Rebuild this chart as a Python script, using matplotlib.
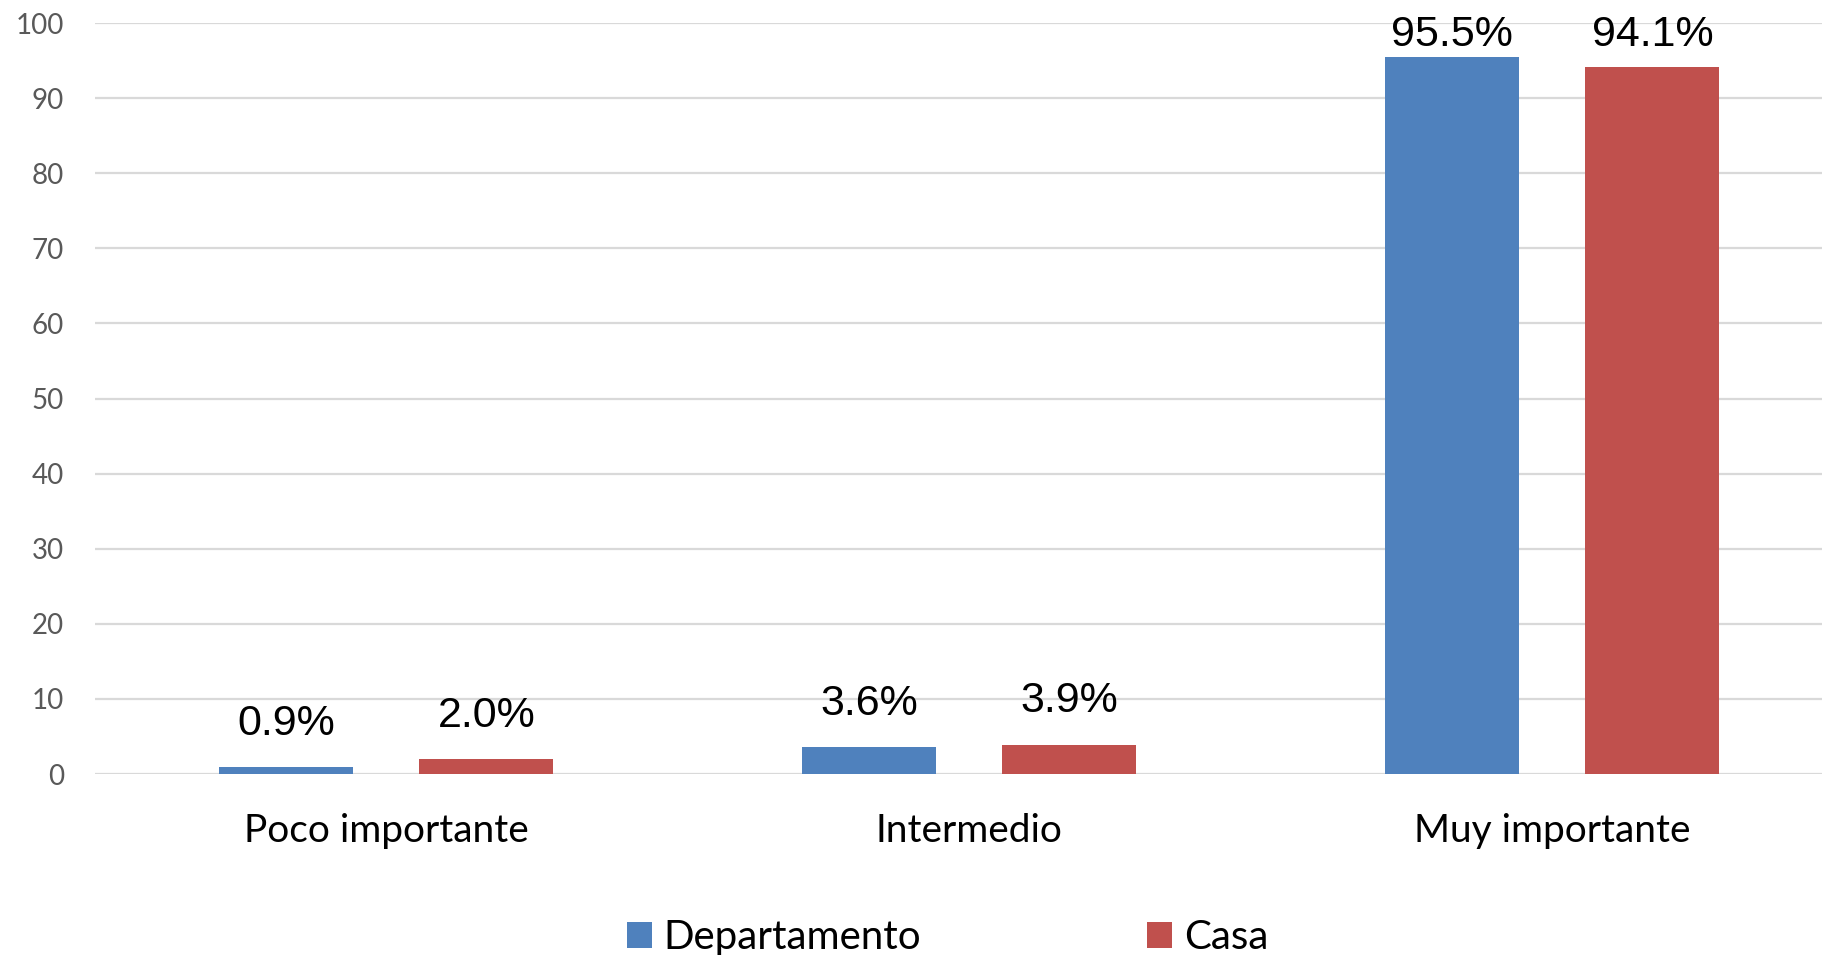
import numpy as np
import matplotlib
matplotlib.use("Agg")
import matplotlib.pyplot as plt
from matplotlib.patches import Patch

categorias = ["Poco importante", "Intermedio", "Muy importante"]
departamento = [0.9, 3.6, 95.5]
casa = [2.0, 3.9, 94.1]
series = ["Departamento", "Casa"]
colores = ["#4F81BD", "#C0504D"]
yticks = [0, 10, 20, 30, 40, 50, 60, 70, 80, 90, 100]

fig = plt.figure(figsize=(18.22, 9.55), dpi=100)
ax = fig.add_axes([0.0519, 0.1895, 0.96, 0.7864])

x = np.arange(len(categorias))
ancho = 0.23
desp = 0.172

for vals, color, sign in [(departamento, colores[0], -1), (casa, colores[1], 1)]:
    bars = ax.bar(x + sign * desp, vals, width=ancho, color=color, zorder=3)
    for b, v in zip(bars, vals):
        # etiqueta sobre la barra, limitada al borde superior del area
        ypos = min(v + 4.3, 96.9)
        ax.text(b.get_x() + b.get_width() / 2, ypos, f"{v:.1f}%",
                ha="center", va="baseline", fontsize=31,
                family="Liberation Sans", color="black", zorder=4)

ax.set_xlim(-0.5, 2.5)
ax.set_ylim(0, 100)
ax.set_yticks(yticks)
ax.set_xticks(x)
ax.set_xticklabels(categorias, fontsize=28, family="Lato", color="black")
for lbl in ax.get_yticklabels():
    lbl.set_fontsize(20)
    lbl.set_family("Lato")
    lbl.set_color("#595959")
ax.tick_params(axis="y", length=0, pad=22)
ax.tick_params(axis="x", length=0, pad=28)
ax.grid(axis="y", color="#D9D9D9", linewidth=1.6, zorder=0)
for s in ax.spines.values():
    s.set_visible(False)

handles = [Patch(facecolor=c, edgecolor="none") for c in colores]
fig.legend(handles, series, loc="center", bbox_to_anchor=(0.52, 0.018),
           ncol=2, frameon=False, prop={"family": "Lato", "size": 29},
           handlelength=0.62, handleheight=0.62, handletextpad=0.3,
           columnspacing=5.6)

fig.savefig("out.png", dpi=100)
